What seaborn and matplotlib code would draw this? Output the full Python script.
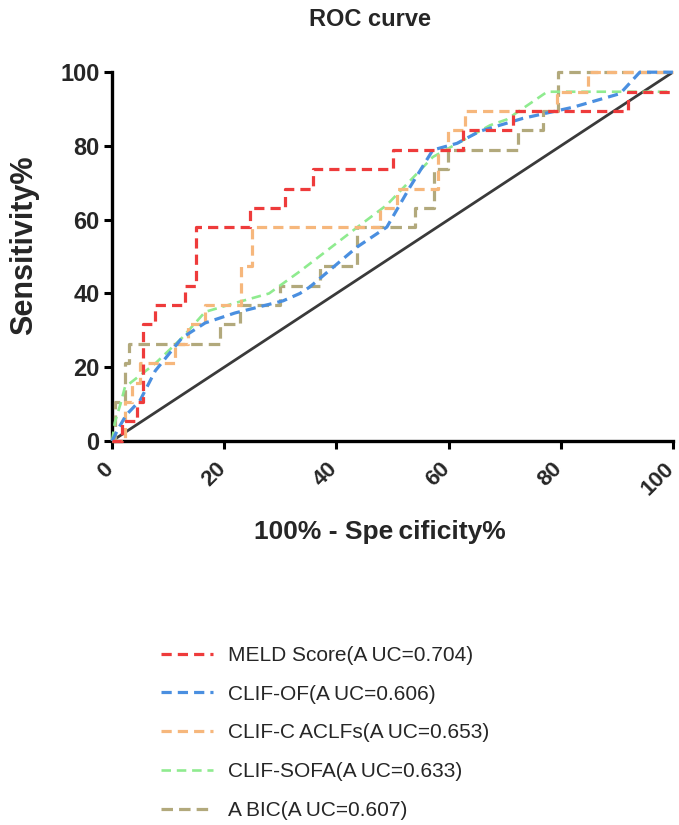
import matplotlib
matplotlib.use("Agg")
import matplotlib.pyplot as plt
import matplotlib.transforms as mtransforms
import seaborn as sns
import pandas as pd

# ROC coordinates (100% - specificity, sensitivity), in percent
meld_fpr = [0, 1.8, 1.8, 4.5, 4.5, 5.5, 5.5, 7.7, 7.7, 13.0, 13.0, 15.0, 15.0, 24.6, 24.6,
            30.8, 30.8, 35.8, 35.8, 50.1, 50.1, 62.6, 62.6, 71.5, 71.5, 92.0, 92.0, 100]
meld_tpr = [0, 0, 5.3, 5.3, 10.5, 10.5, 31.6, 31.6, 36.8, 36.8, 42.1, 42.1, 57.9, 57.9, 63.2,
            63.2, 68.4, 68.4, 73.7, 73.7, 78.9, 78.9, 84.2, 84.2, 89.5, 89.5, 94.7, 94.7]

of_fpr = [0, 1.0, 2.5, 5.0, 7.7, 12.5, 16.6, 21.9, 30.5, 33.5, 35.3, 43.7, 49.0, 53.1,
          57.2, 61.5, 65.6, 73.3, 82.2, 90.6, 94.1, 100]
of_tpr = [0, 3.0, 7.0, 11.0, 19.0, 28.0, 32.0, 34.7, 38.0, 40.0, 41.8, 52.6, 58.0, 68.8,
          78.9, 80.7, 84.0, 87.5, 90.5, 94.2, 100, 100]

aclf_fpr = [0, 2.3, 2.3, 3.5, 3.5, 5.0, 5.0, 11.2, 11.2, 13.5, 13.5, 16.6, 16.6, 23.0, 23.0,
            25.0, 25.0, 47.8, 47.8, 50.8, 50.8, 58.1, 58.1, 59.9, 59.9, 62.9, 62.9, 79.3,
            79.3, 84.8, 84.8, 100]
aclf_tpr = [0, 0, 10.5, 10.5, 15.8, 15.8, 21.1, 21.1, 26.3, 26.3, 31.6, 31.6, 36.8, 36.8, 47.4,
            47.4, 57.9, 57.9, 63.2, 63.2, 68.4, 68.4, 78.9, 78.9, 84.2, 84.2, 89.5, 89.5,
            94.7, 94.7, 100, 100]

sofa_fpr = [0, 0.5, 1.5, 2.3, 7.7, 12.5, 16.6, 21.9, 28.0, 33.5, 44.2, 49.0, 57.2, 67.4,
            70.4, 77.6, 100]
sofa_tpr = [0, 5.0, 10.0, 14.6, 21.0, 28.0, 35.0, 37.4, 40.0, 46.0, 58.5, 64.0, 77.0, 85.6,
            87.2, 94.7, 94.7]

abic_fpr = [0, 0.5, 0.5, 2.3, 2.3, 3.0, 3.0, 19.3, 19.3, 22.8, 22.8, 30.0, 30.0, 37.0, 37.0,
            43.7, 43.7, 54.0, 54.0, 57.4, 57.4, 59.9, 59.9, 72.4, 72.4, 76.8, 76.8, 79.5,
            79.5, 100]
abic_tpr = [0, 0, 10.5, 10.5, 21.1, 21.1, 26.3, 26.3, 31.6, 31.6, 36.8, 36.8, 42.1, 42.1, 47.4,
            47.4, 57.9, 57.9, 63.2, 63.2, 73.7, 73.7, 78.9, 78.9, 84.2, 84.2, 89.5, 89.5,
            100, 100]

labels = ["MELD Score(A\u2009UC=0.704)", "CLIF-OF(A\u2009UC=0.606)",
          "CLIF-C\u2009ACLFs(A\u2009UC=0.653)", "CLIF-SOFA(A\u2009UC=0.633)",
          "A\u2009BIC(A\u2009UC=0.607)"]
colors = ["#EE3B3B", "#4A8FE0", "#F6B77C", "#8FEB8F", "#B2A97C"]
ticks = [0, 20, 40, 60, 80, 100]

sns.set_style("ticks")
plt.rcParams["font.family"] = ["Liberation Sans", "DejaVu Sans"]

fig = plt.figure(figsize=(6.79, 8.25), dpi=100)
ax = fig.add_axes([0.165, 0.4655, 0.826, 0.447])

# chance line
diag = pd.DataFrame({"x": [0, 100], "y": [0, 100]})
sns.lineplot(data=diag, x="x", y="y", ax=ax, color="#3a3a3a", lw=2.0, zorder=2,
             estimator=None, sort=False)

curves = [
    (meld_fpr, meld_tpr, 7, (3.2, 1.9), 2.3),
    (of_fpr, of_tpr, 6, (3.2, 1.9), 2.3),
    (aclf_fpr, aclf_tpr, 5, (3.2, 1.9), 2.3),
    (sofa_fpr, sofa_tpr, 4, (3.6, 2.2), 1.9),
    (abic_fpr, abic_tpr, 3, (3.6, 1.9), 2.3),
]
handles = []
for (fx, ty, z, dash, lw), lab, col in zip(curves, labels, colors):
    df = pd.DataFrame({"fpr": fx, "tpr": ty})
    sns.lineplot(data=df, x="fpr", y="tpr", ax=ax, color=col, lw=lw, zorder=z,
                 estimator=None, sort=False, label=lab)
    line = ax.lines[-1]
    line.set_dashes(dash)
    line.set_clip_on(False)
    handles.append(line)

ax.set_xlim(0, 100)
ax.set_ylim(0, 100)
ax.set_xticks(ticks)
ax.set_yticks(ticks)
ax.set_xticklabels([str(t) for t in ticks], rotation=45, ha="right", va="center",
                   rotation_mode="anchor", fontsize=16, fontweight="bold")
ax.set_yticklabels([str(t) for t in ticks], fontsize=17, fontweight="bold")
ax.tick_params(axis="both", length=6, width=2.2, color="black", direction="out")
ax.tick_params(axis="x", pad=12)
ax.tick_params(axis="y", pad=3)
shift = mtransforms.ScaledTranslation(-1.2 / 72, 0, fig.dpi_scale_trans)
for lbl in ax.get_xticklabels():
    lbl.set_transform(lbl.get_transform() + shift)
sns.despine(ax=ax)
for s in ["left", "bottom"]:
    ax.spines[s].set_linewidth(2.4)
    ax.spines[s].set_color("black")

ax.set_xlabel("100% - Spe\u2009cificity%", fontsize=19, fontweight="bold")
ax.set_ylabel("Sensitivity%", fontsize=22, fontweight="bold")
ax.xaxis.set_label_coords(0.478, -0.215)
ax.yaxis.set_label_coords(-0.13, 0.53)
fig.text(370 / 679, 1 - 20 / 825, "ROC curve", ha="center", va="center",
         fontsize=17, fontweight="bold")

leg = ax.get_legend()
if leg is not None:
    leg.remove()
fig.legend(handles=handles, labels=labels, loc="center left",
           bbox_to_anchor=(142 / 679, 1 - 733 / 825), frameon=False, fontsize=15,
           handlelength=2.5, handletextpad=0.75, labelspacing=0.95)

fig.savefig("out.png", dpi=100)
